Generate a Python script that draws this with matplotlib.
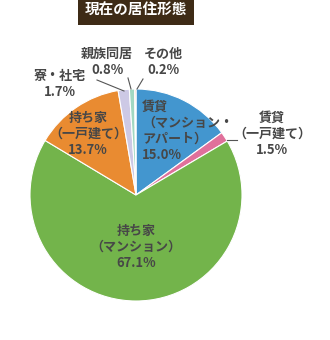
import matplotlib.pyplot as plt

plt.rcParams['font.family'] = ['Noto Sans CJK JP', 'DejaVu Sans']

# data (clockwise from 12 o'clock)
labels = ["賃貸\n（マンション・\nアパート）", "賃貸\n（一戸建て）", "持ち家\n（マンション）",
          "持ち家\n（一戸建て）", "寮・社宅", "親族同居", "その他"]
values = [15.0, 1.5, 67.1, 13.7, 1.7, 0.8, 0.2]
colors = ["#4396CF", "#E0709B", "#73B44B", "#E98B31", "#CDC9E5", "#A2D8C2", "#F2A383"]
title = "現在の居住形態"

# label placement in pixel coords (x, y from top, ha)
label_pos = [(142, 131, "left"), (272, 134, "center"), (136, 247, "center"),
             (88, 134, "center"), (60, 84, "center"), (107, 62, "center"), (163, 62, "center")]
leaders = [None, ((227, 140), (237, 140)), None, None,
           ((97, 80), (124, 91)), ((128, 78), (131, 89)), ((143, 79), (137, 89))]

W, H = 330, 340
fig = plt.figure(figsize=(W / 100, H / 100), dpi=100)
ax = fig.add_axes([0, 0, 1, 1])
ax.axis('off')

cx, cy, r = 136, 195, 106
ax.pie(values, colors=colors, startangle=90, counterclock=False,
       center=(cx, H - cy), radius=r,
       wedgeprops=dict(edgecolor='white', linewidth=0.8))
ax.set_xlim(0, W)
ax.set_ylim(0, H)
ax.set_aspect('equal')

txt_color = "#474747"
for lab, v, (x, y, ha) in zip(labels, values, label_pos):
    ax.text(x, H - y, f"{lab}\n{v:.1f}%", ha=ha, va='center', fontsize=9.4,
            fontweight='bold', color=txt_color, linespacing=1.17,
            multialignment=ha)

for ld in leaders:
    if ld is None:
        continue
    (x0, y0), (x1, y1) = ld
    ax.plot([x0, x1], [H - y0, H - y1], color="#555555", lw=0.8)

ax.text(136, H - 10, title, ha='center', va='center', fontsize=10.5,
        fontweight='bold', color='white',
        bbox=dict(boxstyle='square,pad=0.45', facecolor='#3E2B16', edgecolor='none'))

fig.savefig("out.png", dpi=100)
